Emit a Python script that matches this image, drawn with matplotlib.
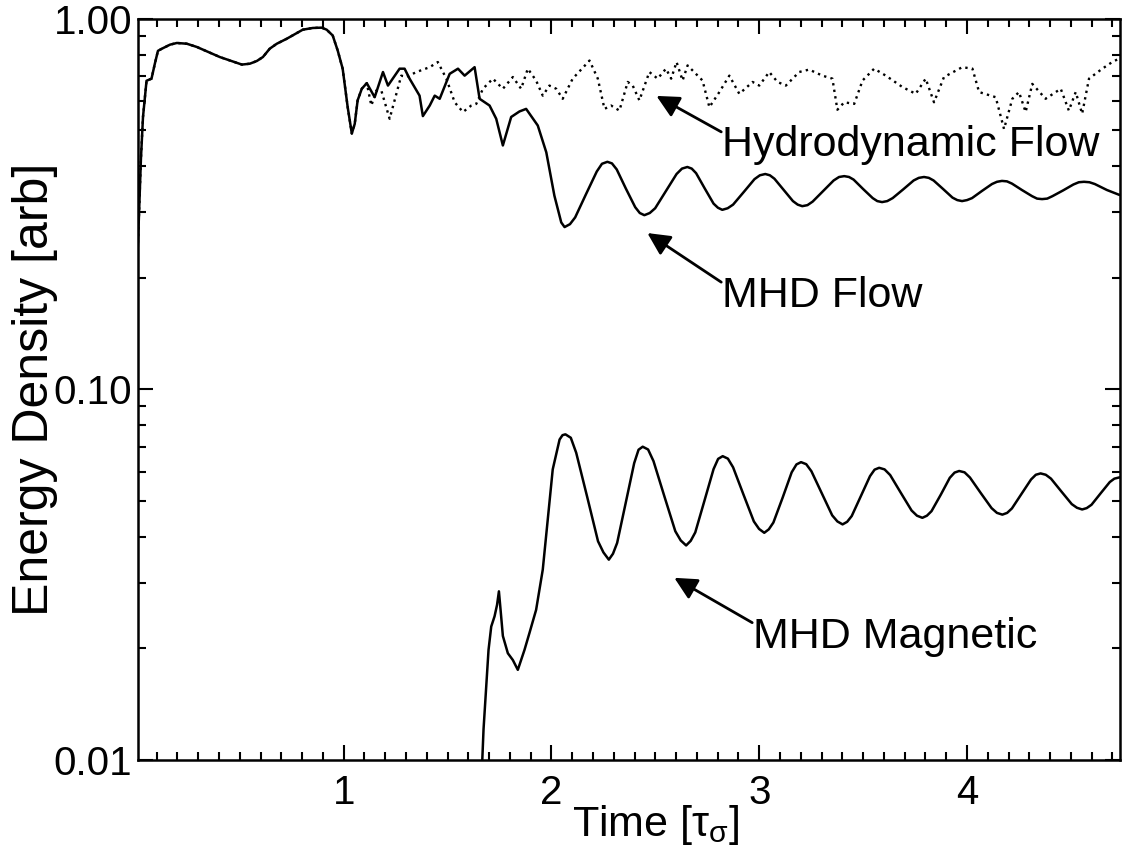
import matplotlib
matplotlib.use('Agg')
import matplotlib.pyplot as plt
from matplotlib.ticker import FixedLocator, FuncFormatter, LogLocator, MultipleLocator, NullFormatter

plt.rcParams['font.family'] = ['Liberation Sans', 'DejaVu Sans']
plt.rcParams['mathtext.fontset'] = 'custom'
plt.rcParams['mathtext.rm'] = 'Liberation Sans'
plt.rcParams['mathtext.it'] = 'Liberation Sans'

# Common initial transient (hydro and MHD identical until t ~ 1.1)
t_start = [0.005, 0.014, 0.024, 0.034, 0.051, 0.075, 0.091, 0.106, 0.125, 0.164,
           0.197, 0.245, 0.293, 0.404, 0.510, 0.548, 0.582, 0.611, 0.644, 0.678,
           0.726, 0.803, 0.851, 0.894, 0.918, 0.947, 0.971, 0.995, 1.019, 1.039,
           1.053, 1.067, 1.087, 1.111]
e_start = [0.211, 0.288, 0.418, 0.543, 0.680, 0.689, 0.756, 0.819, 0.830, 0.851,
           0.860, 0.856, 0.839, 0.788, 0.752, 0.756, 0.769, 0.788, 0.830, 0.856,
           0.883, 0.934, 0.944, 0.946, 0.934, 0.901, 0.821, 0.733, 0.578, 0.490,
           0.520, 0.602, 0.647, 0.670]

# Hydrodynamic flow (dotted)
t_hydro = [1.133, 1.157, 1.181, 1.221, 1.277, 1.301, 1.350, 1.414, 1.453, 1.494,
           1.534, 1.574, 1.614, 1.638, 1.670, 1.718, 1.766, 1.814, 1.854, 1.886,
           1.926, 1.958, 1.990, 2.023, 2.054, 2.102, 2.183, 2.223, 2.255, 2.287,
           2.327, 2.367, 2.391, 2.423, 2.471, 2.511, 2.551, 2.576, 2.602, 2.631,
           2.655, 2.727, 2.760, 2.808, 2.856, 2.904, 2.968, 3.000, 3.048, 3.088,
           3.128, 3.192, 3.240, 3.304, 3.352, 3.376, 3.409, 3.457, 3.497, 3.553,
           3.609, 3.689, 3.753, 3.801, 3.841, 3.889, 3.977, 4.026, 4.058, 4.138,
           4.178, 4.218, 4.250, 4.282, 4.314, 4.378, 4.451, 4.490, 4.523, 4.554,
           4.587, 4.651, 4.699, 4.731]
e_hydro = [0.583, 0.640, 0.640, 0.537, 0.702, 0.696, 0.718, 0.740, 0.764, 0.689,
           0.595, 0.560, 0.583, 0.589, 0.647, 0.689, 0.647, 0.696, 0.647, 0.733,
           0.681, 0.620, 0.660, 0.647, 0.608, 0.689, 0.771, 0.689, 0.571, 0.583,
           0.565, 0.675, 0.660, 0.602, 0.718, 0.689, 0.733, 0.689, 0.764, 0.681,
           0.748, 0.681, 0.577, 0.634, 0.702, 0.627, 0.675, 0.660, 0.718, 0.675,
           0.660, 0.718, 0.729, 0.702, 0.689, 0.568, 0.595, 0.589, 0.681, 0.733,
           0.702, 0.654, 0.627, 0.689, 0.595, 0.696, 0.740, 0.733, 0.634, 0.614,
           0.504, 0.608, 0.634, 0.560, 0.667, 0.608, 0.647, 0.565, 0.634, 0.554,
           0.689, 0.733, 0.764, 0.780]

# MHD flow (solid)
t_flow = [1.149, 1.189, 1.213, 1.269, 1.293, 1.317, 1.365, 1.381, 1.414, 1.438,
          1.462, 1.510, 1.550, 1.582, 1.630, 1.654, 1.702, 1.734, 1.766, 1.806,
          1.846, 1.878, 1.934, 1.975, 2.014, 2.047,
          2.063, 2.089, 2.114, 2.166, 2.218, 2.243, 2.269,
          2.291, 2.314, 2.358, 2.403, 2.425, 2.447,
          2.473, 2.499, 2.551, 2.602, 2.628, 2.654,
          2.675, 2.696, 2.738, 2.780, 2.801, 2.822,
          2.848, 2.874, 2.926, 2.977, 3.003, 3.029,
          3.051, 3.073, 3.118, 3.162, 3.185, 3.207,
          3.232, 3.257, 3.308, 3.358, 3.384, 3.409,
          3.432, 3.454, 3.500, 3.546, 3.568, 3.591,
          3.616, 3.642, 3.692, 3.743, 3.768, 3.793,
          3.816, 3.839, 3.885, 3.930, 3.953, 3.976,
          4.000, 4.024, 4.072, 4.120, 4.144, 4.168,
          4.192, 4.216, 4.264, 4.313, 4.337, 4.361,
          4.386, 4.411, 4.462, 4.512, 4.538, 4.563,
          4.589, 4.615, 4.673, 4.731]
e_flow = [0.614, 0.718, 0.660, 0.733, 0.733, 0.689, 0.620, 0.546, 0.583, 0.620,
          0.608, 0.710, 0.733, 0.702, 0.740, 0.608, 0.583, 0.537, 0.455, 0.543,
          0.562, 0.571, 0.515, 0.436, 0.333, 0.282,
          0.274, 0.279, 0.291, 0.336, 0.387, 0.406, 0.411,
          0.407, 0.392, 0.348, 0.310, 0.299, 0.295,
          0.299, 0.308, 0.343, 0.381, 0.394, 0.398,
          0.394, 0.383, 0.348, 0.317, 0.309, 0.305,
          0.308, 0.315, 0.341, 0.369, 0.378, 0.381,
          0.378, 0.370, 0.345, 0.322, 0.315, 0.312,
          0.314, 0.321, 0.343, 0.366, 0.374, 0.376,
          0.374, 0.368, 0.347, 0.328, 0.322, 0.320,
          0.322, 0.328, 0.346, 0.366, 0.372, 0.374,
          0.372, 0.366, 0.347, 0.329, 0.324, 0.322,
          0.324, 0.328, 0.343, 0.358, 0.363, 0.365,
          0.364, 0.359, 0.345, 0.332, 0.327, 0.326,
          0.327, 0.332, 0.344, 0.357, 0.362, 0.363,
          0.362, 0.358, 0.345, 0.335]

# MHD magnetic (solid)
t_mag = [1.664, 1.673, 1.686, 1.697, 1.710, 1.726, 1.738, 1.747, 1.755, 1.766,
         1.790, 1.814, 1.838, 1.870, 1.894, 1.926, 1.958, 1.982, 2.006, 2.039, 2.053,
         2.067, 2.093, 2.119, 2.172, 2.224, 2.250, 2.276,
         2.296, 2.316, 2.357, 2.398, 2.419, 2.439,
         2.465, 2.491, 2.543, 2.596, 2.622, 2.648,
         2.670, 2.692, 2.736, 2.780, 2.802, 2.824,
         2.849, 2.874, 2.924, 2.974, 2.999, 3.024,
         3.046, 3.068, 3.113, 3.156, 3.179, 3.201,
         3.226, 3.251, 3.301, 3.351, 3.376, 3.401,
         3.423, 3.445, 3.489, 3.533, 3.555, 3.577,
         3.603, 3.630, 3.681, 3.733, 3.759, 3.785,
         3.807, 3.829, 3.874, 3.917, 3.940, 3.962,
         3.988, 4.014, 4.066, 4.118, 4.144, 4.170,
         4.193, 4.216, 4.262, 4.308, 4.331, 4.354,
         4.379, 4.404, 4.454, 4.504, 4.529, 4.554,
         4.576, 4.599, 4.643, 4.687, 4.709, 4.731]
e_mag = [0.0091, 0.0121, 0.0158, 0.0198, 0.0229, 0.0244, 0.0262, 0.0285, 0.0254, 0.0216,
         0.0194, 0.0186, 0.0175, 0.0198, 0.0220, 0.0254, 0.0326, 0.0445, 0.0608, 0.0732, 0.0752,
         0.0756, 0.0740, 0.0674, 0.0512, 0.0389, 0.0363, 0.0347,
         0.0360, 0.0385, 0.0493, 0.0632, 0.0687, 0.0700,
         0.0688, 0.0640, 0.0515, 0.0414, 0.0391, 0.0379,
         0.0390, 0.0411, 0.0500, 0.0609, 0.0649, 0.0660,
         0.0650, 0.0616, 0.0520, 0.0440, 0.0420, 0.0410,
         0.0419, 0.0437, 0.0511, 0.0597, 0.0627, 0.0636,
         0.0628, 0.0601, 0.0524, 0.0457, 0.0440, 0.0432,
         0.0439, 0.0455, 0.0515, 0.0583, 0.0607, 0.0614,
         0.0608, 0.0587, 0.0526, 0.0471, 0.0456, 0.0450,
         0.0456, 0.0469, 0.0520, 0.0577, 0.0596, 0.0602,
         0.0597, 0.0578, 0.0525, 0.0478, 0.0464, 0.0459,
         0.0464, 0.0477, 0.0522, 0.0571, 0.0588, 0.0593,
         0.0588, 0.0574, 0.0530, 0.0490, 0.0479, 0.0474,
         0.0478, 0.0488, 0.0524, 0.0562, 0.0574, 0.0578]

fig = plt.figure(figsize=(11.22, 8.5), dpi=100)
ax = fig.add_axes([0.123, 0.106, 0.875, 0.872])

ax.plot(t_start + t_hydro, e_start + e_hydro, color='black', lw=1.7, ls=(0, (1, 1.8)))
ax.plot(t_start + t_flow, e_start + e_flow, color='black', lw=1.8)
ax.plot(t_mag, e_mag, color='black', lw=1.8)

ax.set_yscale('log')
ax.set_xlim(0.01, 4.735)
ax.set_ylim(0.01, 1.0)

ax.xaxis.set_major_locator(MultipleLocator(1))
ax.xaxis.set_minor_locator(MultipleLocator(0.1))
ax.yaxis.set_major_locator(FixedLocator([0.01, 0.1, 1.0]))
ax.yaxis.set_minor_locator(LogLocator(base=10, subs=range(2, 10)))
ax.yaxis.set_major_formatter(FuncFormatter(lambda v, p: '%.2f' % v))
ax.yaxis.set_minor_formatter(NullFormatter())

ax.tick_params(which='both', direction='in', top=True, right=True, width=1.5, labelsize=29)
ax.tick_params(which='major', length=11)
ax.tick_params(which='minor', length=6)
ax.tick_params(axis='x', pad=10)
ax.tick_params(axis='y', pad=4)
for s in ax.spines.values():
    s.set_linewidth(1.8)

ax.set_xlabel(r'Time [$\mathrm{\tau_{\sigma}}$]', fontsize=31)
ax.xaxis.set_label_coords(0.527, -0.058)
ax.set_ylabel('Energy Density [arb]', fontsize=36)
ax.yaxis.set_label_coords(-0.082, 0.5)

arrow = dict(arrowstyle='-|>', mutation_scale=34, lw=2, color='black', shrinkA=0, shrinkB=0)
ax.annotate('', xy=(2.505, 0.619), xytext=(2.817, 0.495), arrowprops=arrow)
ax.text(2.822, 0.4264, 'Hydrodynamic Flow', fontsize=31, va='baseline', ha='left')
ax.annotate('', xy=(2.4615, 0.264), xytext=(2.817, 0.1946), arrowprops=arrow)
ax.text(2.822, 0.1666, 'MHD Flow', fontsize=31, va='baseline', ha='left')
ax.annotate('', xy=(2.591, 0.0310), xytext=(2.966, 0.02346), arrowprops=arrow)
ax.text(2.971, 0.02008, 'MHD Magnetic', fontsize=31, va='baseline', ha='left')

fig.savefig('out.png', dpi=100)
